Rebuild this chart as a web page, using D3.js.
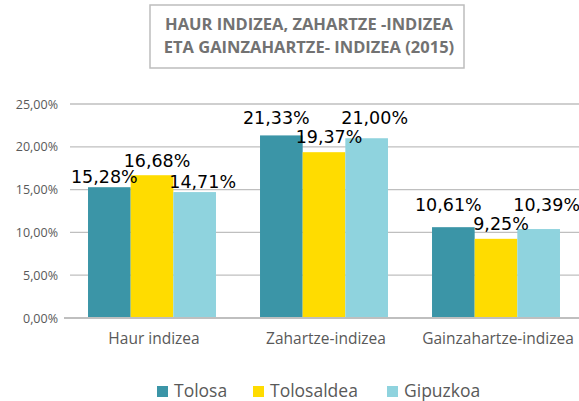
<!DOCTYPE html>
<html>
<head>
<meta charset="utf-8">
<script src="https://cdn.jsdelivr.net/npm/d3@7"></script>
<style>
body{margin:0;background:#fff;}
</style>
</head>
<body>
<svg id="chart" width="579" height="401"></svg>
<script>
var categories = ["Haur indizea","Zahartze-indizea","Gainzahartze-indizea"];
var series = ["Tolosa","Tolosaldea","Gipuzkoa"];
var tolosa = [15.28,21.33,10.61];
var tolosaldea = [16.68,19.37,9.25];
var gipuzkoa = [14.71,21.00,10.39];
var yTicks = [0,5,10,15,20,25];
var titleLines = ["HAUR INDIZEA, ZAHARTZE -INDIZEA","ETA GAINZAHARTZE- INDIZEA (2015)"];
var colors = ["#3b95a7","#ffdc00","#8fd3de"];

var values = [tolosa,tolosaldea,gipuzkoa];
var fmt = v => v.toFixed(2).replace(".",",") + "%";

var svg = d3.select("#chart");
var gray = "#595959";
var font = "'Open Sans', sans-serif";

// title box
svg.append("rect").attr("x",150).attr("y",5).attr("width",314).attr("height",63)
	.attr("fill","none").attr("stroke","#bdbdbd").attr("stroke-width",1.5);
svg.selectAll("text.title").data(titleLines).enter()
	.append("text").attr("class","title")
	.attr("x",309).attr("y",(d,i)=>30+i*23)
	.attr("text-anchor","middle").attr("font-family",font).attr("font-weight","bold")
	.attr("font-size",16.5).attr("fill","#727272").text(d=>d);

var x = d3.scaleBand().domain(categories).range([66,582]).paddingInner(0.256).paddingOuter(0.128);
var xs = d3.scaleBand().domain(series).range([0,x.bandwidth()]);
var y = d3.scaleLinear().domain([0,25]).range([318,104]);

// grid
svg.append("g").selectAll("line").data(yTicks.filter(d=>d>0)).enter()
	.append("line").attr("x1",70).attr("x2",579)
	.attr("y1",d=>y(d)).attr("y2",d=>y(d))
	.attr("stroke","#bfbfbf").attr("stroke-width",1.3);

// y labels
svg.append("g").selectAll("text").data(yTicks).enter()
	.append("text").attr("x",58).attr("y",d=>y(d)+4.5)
	.attr("text-anchor","end").attr("font-family",font).attr("font-size",12.5)
	.attr("fill",gray).text(d=>d.toFixed(2).replace(".",",")+"%");

// bars
series.forEach(function(s,si){
	svg.append("g").selectAll("rect").data(values[si]).enter()
		.append("rect")
		.attr("x",(d,i)=>x(categories[i])+xs(s))
		.attr("width",xs.bandwidth())
		.attr("y",d=>y(d)).attr("height",d=>y(0)-y(d))
		.attr("fill",colors[si]);
});

// axis line
svg.append("line").attr("x1",64).attr("x2",579).attr("y1",y(0)).attr("y2",y(0))
	.attr("stroke","#bfbfbf").attr("stroke-width",2);

// category labels
svg.append("g").selectAll("text").data(categories).enter()
	.append("text").attr("x",d=>x(d)+x.bandwidth()/2+2).attr("y",344)
	.attr("text-anchor","middle").attr("font-family",font).attr("font-size",15.5)
	.attr("fill",gray).text(d=>d);

// value labels, nudged apart where they would collide
var nudge = [-5,5,8];
categories.forEach(function(c,ci){
	var v = values.map(a=>a[ci]);
	var base = v.map(d=>y(d)-4);
	if (v[1] >= Math.max(v[0],v[2])) {
		base[1] = Math.min(base[1], Math.min(base[0],base[2]) - 16);
	} else {
		base[1] = y(v[1]) - 9;
		base[0] = Math.min(base[0], base[1]-19);
		base[2] = Math.min(base[2], base[1]-19);
	}
	series.forEach(function(s,si){
		svg.append("text")
			.attr("x",x(c)+xs(s)+xs.bandwidth()/2+nudge[si])
			.attr("y",base[si])
			.attr("text-anchor","middle").attr("font-family","'DejaVu Sans', sans-serif")
			.attr("font-size",17.5).attr("fill","#000").text(fmt(v[si]));
	});
});

// legend
var legX = [157,253,387];
var lg = svg.append("g").selectAll("g").data(series).enter()
	.append("g").attr("transform",(d,i)=>"translate("+legX[i]+",386)");
lg.append("rect").attr("width",11).attr("height",11).attr("fill",(d,i)=>colors[i]);
lg.append("text").attr("x",17).attr("y",11).attr("font-family",font).attr("font-size",17.5)
	.attr("fill",gray).text(d=>d);
</script>
</body>
</html>
